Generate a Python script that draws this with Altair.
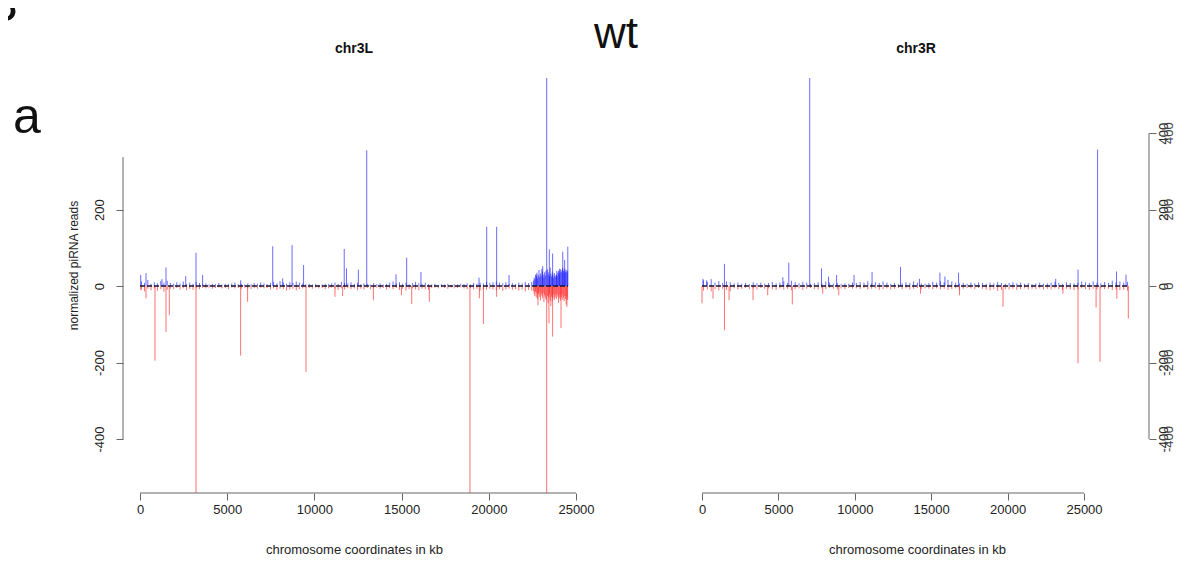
import altair as alt
import pandas as pd

# ---------------- chr3L ----------------
# prominent spikes (kb, normalized reads)
L_plus_kb = [40, 344, 1260, 1490, 2620, 3210, 3590, 5770, 7610, 8180, 8720, 9380, 11710, 11840,
             12520, 13000, 14680, 15290, 16110, 19440, 19880, 20450, 21160, 22750, 23090, 23320,
             23470, 23660, 23900, 24050, 24240, 24350, 24530]
L_plus_val = [29, 34, 18, 49, 26, 87, 29, 15, 104, 20, 107, 55, 97, 46,
              43, 355, 31, 74, 37, 22, 155, 155, 29, 30, 52, 560,
              96, 85, 40, 45, 90, 68, 103]
L_minus_kb = [40, 344, 860, 1490, 1680, 3210, 5770, 6170, 9520, 11180, 11620, 13380, 14990, 15580,
              16590, 18920, 19460, 19690, 20450, 22820, 23320, 23450, 23660, 24140, 24480]
L_minus_val = [-10, -32, -195, -120, -76, -560, -182, -41, -225, -28, -26, -37, -24, -47,
               -41, -560, -32, -99, -28, -50, -560, -97, -132, -110, -54]

# low-level background signal along chr3L
L_bg_kb = [80, 260, 450, 630, 820, 1000, 1190, 1370, 1560, 1740,
           1930, 2110, 2300, 2480, 2670, 2850, 3040, 3220, 3410, 3590,
           3780, 3960, 4150, 4330, 4520, 4700, 4890, 5070, 5260, 5440,
           5630, 5810, 6000, 6180, 6370, 6550, 6740, 6920, 7110, 7290,
           7480, 7660, 7850, 8030, 8220, 8400, 8590, 8770, 8960, 9140,
           9330, 9510, 9700, 9880, 10070, 10250, 10440, 10620, 10810, 10990,
           11180, 11360, 11550, 11730, 11920, 12100, 12290, 12470, 12660, 12840,
           13030, 13210, 13400, 13580, 13770, 13950, 14140, 14320, 14510, 14690,
           14880, 15060, 15250, 15430, 15620, 15800, 15990, 16170, 16360, 16540,
           16730, 16910, 17100, 17280, 17470, 17650, 17840, 18020, 18210, 18390,
           18580, 18760, 18950, 19130, 19320, 19500, 19690, 19870, 20060, 20240,
           20430, 20610, 20800, 20980, 21170, 21350, 21540, 21720, 21910, 22090,
           22280, 22460]
L_bg_plus = [12, 8, 16, 6, 10, 7, 13, 9, 14, 8,
             6, 10, 7, 12, 5, 9, 6, 11, 8, 5,
             7, 4, 6, 5, 8, 4, 6, 5, 7, 9,
             5, 6, 4, 7, 5, 8, 6, 9, 7, 5,
             8, 11, 7, 13, 9, 6, 10, 8, 12, 9,
             7, 5, 6, 4, 5, 3, 4, 6, 5, 7,
             9, 6, 11, 8, 7, 10, 6, 9, 5, 7,
             6, 4, 8, 5, 7, 4, 6, 9, 12, 7,
             10, 6, 9, 5, 8, 11, 7, 6, 9, 5,
             4, 6, 3, 5, 4, 6, 3, 5, 4, 6,
             5, 7, 4, 8, 6, 9, 7, 11, 8, 10,
             12, 9, 7, 10, 6, 8, 5, 9, 7, 11,
             8, 10]
L_bg_minus = [-9, -14, -7, -11, -6, -12, -8, -15, -10, -7,
              -8, -5, -9, -6, -11, -7, -10, -6, -8, -5,
              -6, -4, -7, -5, -4, -6, -5, -8, -4, -6,
              -5, -7, -4, -6, -8, -5, -7, -4, -6, -5,
              -9, -6, -10, -7, -8, -12, -9, -7, -11, -8,
              -6, -4, -5, -7, -4, -6, -5, -8, -6, -4,
              -7, -10, -6, -9, -5, -8, -6, -11, -7, -9,
              -5, -8, -6, -4, -7, -5, -9, -6, -8, -5,
              -10, -7, -12, -8, -6, -9, -11, -7, -8, -10,
              -5, -4, -6, -3, -5, -7, -4, -6, -5, -3,
              -6, -8, -5, -9, -7, -12, -8, -10, -7, -9,
              -11, -8, -13, -9, -7, -10, -8, -12, -9, -14,
              -10, -12]
# dense cluster near the distal end of chr3L
L_cl_kb = [22560, 22600, 22640, 22680, 22720, 22760, 22800, 22840, 22880, 22920,
           22960, 23000, 23040, 23080, 23120, 23160, 23200, 23240, 23280, 23360,
           23400, 23440, 23480, 23520, 23560, 23600, 23640, 23680, 23720, 23760,
           23800, 23840, 23880, 23920, 23960, 24000, 24040, 24080, 24120, 24160,
           24200, 24240, 24280, 24320, 24360, 24400, 24440, 24480, 24520]
L_cl_plus = [14, 22, 18, 30, 25, 35, 20, 28, 42, 24,
             33, 27, 45, 38, 30, 22, 36, 28, 40, 44,
             30, 36, 26, 48, 32, 25, 38, 30, 22, 34,
             28, 24, 30, 26, 35, 40, 32, 38, 44, 36,
             42, 48, 40, 35, 45, 38, 42, 36, 40]
L_cl_minus = [-12, -20, -26, -15, -30, -18, -34, -22, -16, -28,
              -38, -20, -25, -32, -18, -42, -24, -30, -36, -26,
              -45, -30, -22, -38, -52, -28, -40, -30, -22, -36,
              -30, -24, -34, -20, -28, -44, -32, -24, -38, -30,
              -22, -36, -30, -40, -26, -34, -48, -28, -36]
L_length_kb = 24543

# ---------------- chr3R ----------------
R_plus_kb = [60, 300, 1470, 5290, 5680, 7050, 7820, 8280, 8810, 9950, 11130, 12990, 14230,
             15570, 15900, 16790, 23150, 24610, 25890, 27130, 27750]
R_plus_val = [19, 15, 58, 23, 61, 560, 46, 25, 29, 29, 37, 50, 19,
              35, 25, 35, 19, 43, 357, 38, 30]
R_minus_kb = [0, 720, 1470, 1770, 3340, 4300, 5910, 7900, 8950, 14300, 16850, 19700, 23620,
              24610, 25790, 26050, 27150, 27900]
R_minus_val = [-45, -33, -115, -37, -37, -24, -48, -20, -24, -20, -24, -54, -20,
               -202, -56, -198, -33, -85]

R_bg_kb = [100, 350, 600, 850, 1100, 1350, 1600, 1850, 2100, 2350,
           2600, 2850, 3100, 3350, 3600, 3850, 4100, 4350, 4600, 4850,
           5100, 5350, 5600, 5850, 6100, 6350, 6600, 6850, 7100, 7350,
           7600, 7850, 8100, 8350, 8600, 8850, 9100, 9350, 9600, 9850,
           10100, 10350, 10600, 10850, 11100, 11350, 11600, 11850, 12100, 12350,
           12600, 12850, 13100, 13350, 13600, 13850, 14100, 14350, 14600, 14850,
           15100, 15350, 15600, 15850, 16100, 16350, 16600, 16850, 17100, 17350,
           17600, 17850, 18100, 18350, 18600, 18850, 19100, 19350, 19600, 19850,
           20100, 20350, 20600, 20850, 21100, 21350, 21600, 21850, 22100, 22350,
           22600, 22850, 23100, 23350, 23600, 23850, 24100, 24350, 24600, 24850,
           25100, 25350, 25600, 25850, 26100, 26350, 26600, 26850, 27100, 27350,
           27600, 27850]
R_bg_plus = [15, 11, 18, 9, 13, 8, 12, 10, 7, 9,
             6, 8, 5, 10, 7, 9, 6, 8, 11, 7,
             9, 12, 8, 14, 10, 7, 11, 9, 6, 8,
             10, 7, 12, 9, 6, 8, 5, 7, 6, 9,
             8, 11, 9, 13, 7, 10, 8, 12, 9, 6,
             8, 5, 7, 10, 8, 12, 9, 7, 6, 8,
             11, 9, 13, 10, 16, 12, 9, 7, 8, 6,
             9, 7, 10, 8, 6, 9, 7, 11, 8, 6,
             8, 10, 7, 9, 6, 8, 5, 7, 9, 6,
             7, 9, 11, 8, 6, 10, 8, 7, 9, 12,
             10, 8, 12, 9, 7, 11, 8, 14, 10, 12,
             9, 11]
R_bg_minus = [-12, -9, -14, -8, -11, -7, -10, -13, -6, -9,
              -7, -5, -8, -6, -9, -5, -7, -6, -8, -10,
              -6, -9, -7, -11, -8, -6, -10, -7, -5, -8,
              -9, -6, -8, -5, -7, -9, -6, -8, -5, -7,
              -6, -8, -5, -9, -7, -6, -10, -8, -6, -9,
              -7, -5, -8, -6, -9, -7, -5, -8, -6, -7,
              -8, -6, -9, -7, -10, -8, -6, -9, -7, -5,
              -6, -8, -5, -7, -9, -11, -8, -13, -10, -8,
              -9, -7, -10, -8, -6, -9, -7, -8, -6, -9,
              -7, -9, -6, -8, -10, -7, -9, -11, -8, -6,
              -8, -10, -7, -9, -6, -8, -7, -10, -9, -11,
              -10, -12]
R_length_kb = 27905

# axis tick values
x_ticks = [0, 5000, 10000, 15000, 20000, 25000]
yL_ticks = [-400, -200, 0, 200]
yR_ticks = [-400, -200, 0, 200, 400]


def strand_df(pairs):
    rows = []
    for kbs, vals, strand in pairs:
        for k, v in zip(kbs, vals):
            rows.append({"kb": k, "v": v, "z": 0, "strand": strand})
    return pd.DataFrame(rows)


dfL = strand_df([(L_bg_kb, L_bg_plus, "plus"), (L_bg_kb, L_bg_minus, "minus"),
                 (L_cl_kb, L_cl_minus, "minus"), (L_cl_kb, L_cl_plus, "plus"),
                 (L_plus_kb, L_plus_val, "plus"), (L_minus_kb, L_minus_val, "minus")])
dfR = strand_df([(R_bg_kb, R_bg_plus, "plus"), (R_bg_kb, R_bg_minus, "minus"),
                 (R_plus_kb, R_plus_val, "plus"), (R_minus_kb, R_minus_val, "minus")])

W, H = 1026, 415
FONT = "Liberation Sans"
AX = "#666666"

xL = alt.Scale(domain=[-975, 25516], range=[0, 462], nice=False, zero=False)
xR = alt.Scale(domain=[-1113, 29254], range=[562, 1026], nice=False, zero=False)
yS = alt.Scale(domain=[-541, 544], nice=False, zero=False)

color = alt.Color("strand:N", legend=None,
                  scale=alt.Scale(domain=["plus", "minus"], range=["#1010ff", "#ff1a1a"]))


def x_axis():
    return alt.Axis(values=x_ticks, domain=False, grid=False, tickSize=7, tickColor=AX,
                    labelExpr="toString(datum.value)", labelFont=FONT, labelFontSize=13,
                    labelColor="#222", labelPadding=3, labelFlush=False, labelOverlap=False,
                    title="chromosome coordinates in kb", titleFont=FONT, titleFontSize=13,
                    titleFontWeight="normal", titleColor="#222", titleY=60,
                    titleBaseline="alphabetic", orient="bottom")


ayL = alt.Axis(values=yL_ticks, domain=False, grid=False, tickSize=7, tickColor=AX,
               labelExpr="toString(datum.value)", labelFont=FONT, labelFontSize=13,
               labelColor="#222", labelAngle=270, labelAlign="center",
               labelBaseline="alphabetic", labelPadding=13, labelOverlap=False,
               title="normalized piRNA reads", titleFont=FONT, titleFontSize=12,
               titleFontWeight="normal", titleColor="#222", titleAngle=270,
               titleX=-50, titleY=187, titleAlign="center", titleBaseline="middle",
               orient="left")
ayR = alt.Axis(values=yR_ticks, domain=False, grid=False, tickSize=7, tickColor=AX,
               labelExpr="toString(datum.value)", labelFont=FONT, labelFontSize=13,
               labelColor="#222", labelAngle=270, labelAlign="center",
               labelBaseline="alphabetic", labelPadding=11, labelOverlap=False,
               title=None, orient="right")


def panel(df, xs, xax, yax, length_kb, y_line_hi, axis_x):
    spikes = alt.Chart(df).mark_rule(strokeWidth=1, opacity=0.62, clip=True).encode(
        x=alt.X("kb:Q", scale=xs, axis=xax),
        y=alt.Y("v:Q", scale=yS, axis=yax),
        y2="z:Q",
        color=color,
    )
    zero = alt.Chart(pd.DataFrame({"a": [0], "b": [length_kb], "y": [0]})).mark_rule(
        color="#15152a", strokeWidth=1.4, strokeDash=[5, 2]).encode(
        x=alt.X("a:Q", scale=xs, axis=xax), x2="b:Q",
        y=alt.Y("y:Q", scale=yS, axis=yax))
    xline = alt.Chart(pd.DataFrame({"a": [x_ticks[0]], "b": [x_ticks[-1]]})).mark_rule(
        color=AX, strokeWidth=1).encode(
        x=alt.X("a:Q", scale=xs, axis=xax), x2="b:Q", y=alt.value(H))
    yline = alt.Chart(pd.DataFrame({"lo": [yL_ticks[0]], "hi": [y_line_hi]})).mark_rule(
        color=AX, strokeWidth=1).encode(
        y=alt.Y("lo:Q", scale=yS, axis=yax), y2="hi:Q", x=alt.value(axis_x))
    return [spikes, zero, xline, yline]


left = alt.layer(*panel(dfL, xL, x_axis(), ayL, L_length_kb, 337, 0))
right_layers = panel(dfR, xR, x_axis(), ayR, R_length_kb, 400, W)
# doubled (over-printed) right-hand labels as in the original figure
dup = alt.Chart(pd.DataFrame({"t": yR_ticks, "s": [str(v) for v in yR_ticks]})).mark_text(
    font=FONT, fontSize=13, angle=270, align="center", baseline="alphabetic",
    color="#444").encode(y=alt.Y("t:Q", scale=yS, axis=ayR), text="s:N",
                         x=alt.value(W + 24))
right = alt.layer(*right_layers, dup)


def label(txt, x, y, size, weight="normal", align="center"):
    return alt.Chart(pd.DataFrame({"t": [txt]})).mark_text(
        font=FONT, fontSize=size, fontWeight=weight, align=align, baseline="alphabetic",
        color="#111").encode(text="t:N", x=alt.value(x), y=alt.value(y))


texts = [
    label("wt", 493, -30, 44),
    label("chr3L", 231, -25, 14, "bold"),
    label("chr3R", 793, -25, 14, "bold"),
    label("a", -96, 55, 50),
    label("B", -105, -57, 50, align="right"),
]

chart = alt.layer(left, right, *texts).resolve_scale(
    x="independent", y="independent", color="shared"
).properties(
    width=W, height=H,
    autosize=alt.AutoSizeParams(type="none"),
    padding={"left": 115, "top": 70, "right": 40, "bottom": 68},
    background="white",
).configure_view(stroke=None)

chart.save("out.html", embed_options={"renderer": "svg", "actions": False})
